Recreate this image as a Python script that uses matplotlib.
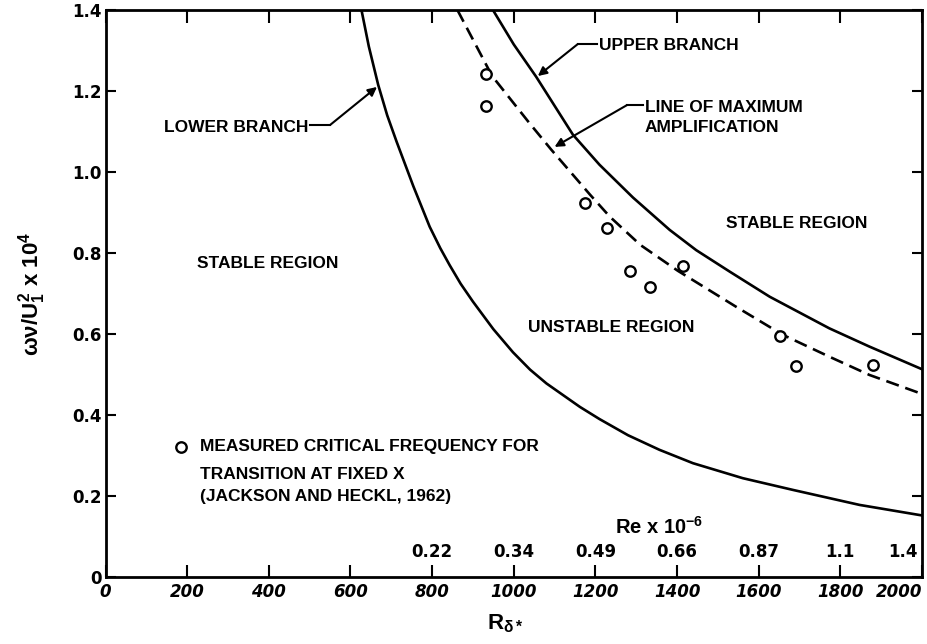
"""Neutral stability curves (Blasius) vs. measured transition frequencies."""
import matplotlib
matplotlib.use("Agg")
import matplotlib.pyplot as plt

# curves: R_delta* vs omega*nu/U1^2 x 10^4
lower_r = [627, 645, 668, 690, 713, 754, 794, 820, 843, 870, 900, 950, 998,
           1040, 1080, 1162, 1210, 1280, 1357, 1439, 1561, 1684, 1847, 2000]
lower_f = [1.40, 1.31, 1.215, 1.14, 1.075, 0.965, 0.865, 0.812, 0.770, 0.724,
           0.680, 0.612, 0.555, 0.512, 0.478, 0.42, 0.390, 0.350, 0.314, 0.281,
           0.244, 0.215, 0.178, 0.152]

upper_r = [949, 1000, 1055, 1145, 1210, 1292, 1382, 1447, 1529, 1627, 1773,
           1871, 2000]
upper_f = [1.40, 1.315, 1.235, 1.092, 1.018, 0.937, 0.857, 0.807, 0.754, 0.692,
           0.614, 0.569, 0.513]

maxamp_r = [862, 947, 1039, 1092, 1186, 1235, 1310, 1402, 1545, 1659, 1773,
            1871, 2000]
maxamp_f = [1.40, 1.237, 1.12, 1.055, 0.945, 0.89, 0.82, 0.756, 0.667, 0.598,
            0.544, 0.499, 0.452]

# Jackson and Heckl (1962)
meas_r = [933, 933, 1174, 1228, 1284, 1333, 1414, 1651, 1692, 1880]
meas_f = [1.243, 1.163, 0.924, 0.861, 0.755, 0.717, 0.769, 0.595, 0.521, 0.523]

x_ticks = [0, 200, 400, 600, 800, 1000, 1200, 1400, 1600, 1800, 2000]
y_ticks = [0, 0.2, 0.4, 0.6, 0.8, 1.0, 1.2, 1.4]
y_labels = ["0", "0.2", "0.4", "0.6", "0.8", "1.0", "1.2", "1.4"]
re_pos = [800, 1000, 1200, 1400, 1600, 1800, 1990]
re_labels = ["0.22", "0.34", "0.49", "0.66", "0.87", "1.1", "1.4"]

NARROW = ["Liberation Sans Narrow", "Liberation Sans", "DejaVu Sans"]
plt.rcParams["mathtext.fontset"] = "custom"
plt.rcParams["mathtext.rm"] = "Liberation Sans:bold"
plt.rcParams["mathtext.it"] = "Liberation Sans:bold"
plt.rcParams["mathtext.bf"] = "Liberation Sans:bold"

fig = plt.figure(figsize=(9.27, 6.44), dpi=100)
ax = fig.add_axes([105.5 / 927, 1 - 577 / 644, (922 - 105.5) / 927, (577 - 10) / 644])

ax.plot(lower_r, lower_f, color="k", lw=1.9)
ax.plot(upper_r, upper_f, color="k", lw=1.9)
ax.plot(maxamp_r, maxamp_f, color="k", lw=1.9, ls=(0, (5, 2.6)))
ax.plot(meas_r, meas_f, ls="none", marker="o", ms=7.5, mfc="white",
        mec="k", mew=1.7)

ax.set_xlim(0, 2000)
ax.set_ylim(0, 1.4)
for s in ax.spines.values():
    s.set_linewidth(2)

ax.set_xticks(x_ticks)
ax.set_xticklabels([str(v) for v in x_ticks], fontweight="bold",
                   style="italic", fontsize=12)
ax.get_xticklabels()[-1].set_ha("right")
ax.set_yticks(y_ticks)
ax.set_yticklabels(y_labels, fontweight="bold", fontsize=12)
ax.tick_params(axis="x", direction="in", length=9, width=1.5, pad=4,
               top=True)
ax.tick_params(axis="y", direction="in", length=7, width=1.5, pad=3,
               right=True)


# annotation leaders with arrowheads
def leader(text_xy, corner, tip):
    ax.plot([text_xy[0], corner[0]], [text_xy[1], corner[1]], color="k", lw=1.5)
    ax.annotate("", xy=tip, xytext=corner,
                arrowprops=dict(arrowstyle="-|>", color="k", lw=1.5,
                                mutation_scale=13, shrinkA=0, shrinkB=0))


tk = dict(family=NARROW, fontweight="bold", fontsize=12.5, color="k")
ax.text(1210, 1.313, "UPPER BRANCH", ha="left", va="center", **tk)
leader((1205, 1.316), (1157, 1.316), (1059, 1.237))
ax.text(1321, 1.160, "LINE OF MAXIMUM", ha="left", va="center", **tk)
ax.text(1321, 1.111, "AMPLIFICATION", ha="left", va="center", **tk)
leader((1316, 1.165), (1277, 1.165), (1100, 1.062))
ax.text(496, 1.111, "LOWER BRANCH", ha="right", va="center", **tk)
leader((501, 1.116), (550, 1.116), (665, 1.210))

ax.text(224, 0.775, "STABLE REGION", ha="left", va="center", **tk)
ax.text(1521, 0.874, "STABLE REGION", ha="left", va="center", **tk)
ax.text(1034, 0.617, "UNSTABLE REGION", ha="left", va="center", **tk)

ax.plot([186], [0.322], ls="none", marker="o", ms=7.5, mfc="white",
        mec="k", mew=1.7)
ax.text(231, 0.321, "MEASURED CRITICAL FREQUENCY FOR", ha="left",
        va="center", **tk)
ax.text(231, 0.254, "TRANSITION AT FIXED X", ha="left", va="center", **tk)
ax.text(231, 0.198, "(JACKSON AND HECKL, 1962)", ha="left", va="center", **tk)

big = dict(tk, fontsize=14.5)
ax.text(1357, 0.125, r"Re x 10$^{-6}$", ha="center", va="center", **big)
for x, lab in zip(re_pos, re_labels):
    ax.text(x, 0.062, lab, ha="right" if x > 1900 else "center",
            va="center", fontweight="bold", fontsize=12)

fig.text(32 / 927, 1 - 294 / 644, r"$\omega\nu/U_1^2$ x 10$^4$",
         rotation=90, ha="center", va="center", **dict(tk, fontsize=16))
fig.text(505 / 927, 1 - 624 / 644, r"R$_{\delta *}$", ha="center",
         va="center", **dict(tk, fontsize=16))

fig.savefig("out.png", dpi=100)
